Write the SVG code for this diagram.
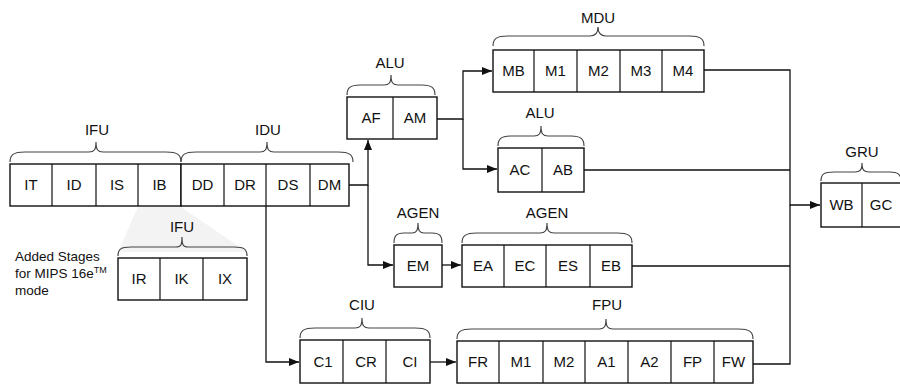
<svg xmlns="http://www.w3.org/2000/svg" width="900" height="384" viewBox="0 0 900 384">
<defs>
<style>
.box{fill:#fff;stroke:#111;stroke-width:1.4}
.div{stroke:#111;stroke-width:1.2;fill:none}
.br{fill:none;stroke:#444;stroke-width:1.2}
.t{font-family:"Liberation Sans",Arial,sans-serif;font-size:15px;fill:#111;text-anchor:middle}
.lb{font-family:"Liberation Sans",Arial,sans-serif;font-size:15px;fill:#111;text-anchor:middle}
.note{font-family:"Liberation Sans",Arial,sans-serif;font-size:13.5px;fill:#111}
.c{fill:none;stroke:#111;stroke-width:1.3}
</style>
<marker id="ah" viewBox="0 0 10 8" refX="10" refY="4" markerWidth="10" markerHeight="8" markerUnits="userSpaceOnUse" orient="auto">
<path d="M0,0 L10,4 L0,8 Z" fill="#111"/>
</marker>
</defs>
<rect width="900" height="384" fill="#fff"/>
<polygon points="138,207 181,207 247,252 118,252" fill="#f3f3f3"/>

<g id="connectors">
<path class="c" d="M349,185 H368 V140" marker-end="url(#ah)"/>
<path class="c" d="M368,185 V265 H393" marker-end="url(#ah)"/>
<path class="c" d="M266,206 V362 H299" marker-end="url(#ah)"/>
<path class="c" d="M437,119 H463 V71 H492" marker-end="url(#ah)"/>
<path class="c" d="M463,119 V169 H497" marker-end="url(#ah)"/>
<path class="c" d="M442,265 H461" marker-end="url(#ah)"/>
<path class="c" d="M430,362 H456" marker-end="url(#ah)"/>
<path class="c" d="M704,70 H790 V205 H820" marker-end="url(#ah)"/>
<path class="c" d="M584,170 H790"/>
<path class="c" d="M632,266 H790"/>
<path class="c" d="M753,364 H790 V205"/>
</g>

<g id="ifu">
<path class="br" d="M10,162 C10,155 13,152 25,152 L89,152 C94,152 96,150 96,142 C96,150 98,152 103,152 L166,152 C178,152 181,155 181,162"/>
<text class="lb" x="97" y="135">IFU</text>
<rect class="box" x="10" y="164" width="171" height="42"/>
<path class="div" d="M52,164V206M96,164V206M138,164V206"/>
<text class="t" x="31" y="190">IT</text>
<text class="t" x="74" y="190">ID</text>
<text class="t" x="117" y="190">IS</text>
<text class="t" x="159.5" y="190">IB</text>
</g>

<g id="idu">
<path class="br" d="M181,162 C181,155 184,152 196,152 L260,152 C265,152 267,150 267,142 C267,150 269,152 274,152 L338,152 C350,152 353,155 353,162"/>
<text class="lb" x="268" y="135">IDU</text>
<rect class="box" x="181" y="164" width="168" height="42"/>
<path class="div" d="M224,164V206M266,164V206M310,164V206"/>
<text class="t" x="202.5" y="190">DD</text>
<text class="t" x="245" y="190">DR</text>
<text class="t" x="288" y="190">DS</text>
<text class="t" x="329.5" y="190">DM</text>
</g>

<g id="ifu16">
<path class="br" d="M118,256 C118,249 121,247 131,247 L176,247 C181,247 182,245 182,237 C182,245 183,247 188,247 L234,247 C244,247 247,249 247,256"/>
<text class="lb" x="182" y="232">IFU</text>
<rect class="box" x="118" y="258" width="129" height="42"/>
<path class="div" d="M160,258V300M203,258V300"/>
<text class="t" x="139" y="284">IR</text>
<text class="t" x="181.5" y="284">IK</text>
<text class="t" x="225" y="284">IX</text>
</g>

<g id="note">
<text class="note" x="15" y="261">Added Stages</text>
<text class="note" x="15" y="278">for MIPS 16e<tspan font-size="9" dy="-5">TM</tspan></text>
<text class="note" x="15" y="295">mode</text>
</g>

<g id="alu1">
<path class="br" d="M347,95 C347,88 350,85 360,85 L384,85 C389,85 391,83 391,75 C391,83 393,85 398,85 L422,85 C432,85 435,88 435,95"/>
<text class="lb" x="390" y="68">ALU</text>
<rect class="box" x="347" y="97" width="90" height="42"/>
<path class="div" d="M393,97V139"/>
<text class="t" x="371" y="123">AF</text>
<text class="t" x="415" y="123">AM</text>
</g>

<g id="mdu">
<path class="br" d="M493,46 C493,39 496,36 508,36 L590,36 C595,36 598,34 598,27 C598,34 601,36 606,36 L689,36 C701,36 704,39 704,46"/>
<text class="lb" x="598" y="23">MDU</text>
<rect class="box" x="493" y="50" width="211" height="42"/>
<path class="div" d="M534,50V92M577,50V92M620,50V92M662,50V92"/>
<text class="t" x="513.5" y="76">MB</text>
<text class="t" x="555.5" y="76">M1</text>
<text class="t" x="598.5" y="76">M2</text>
<text class="t" x="641" y="76">M3</text>
<text class="t" x="683" y="76">M4</text>
</g>

<g id="alu2">
<path class="br" d="M498,146 C498,139 501,136 511,136 L534,136 C539,136 541,134 541,126 C541,134 543,136 548,136 L571,136 C581,136 584,139 584,146"/>
<text class="lb" x="540" y="118">ALU</text>
<rect class="box" x="498" y="148" width="86" height="44"/>
<path class="div" d="M542,148V192"/>
<text class="t" x="520" y="175">AC</text>
<text class="t" x="563" y="175">AB</text>
</g>

<g id="agen1">
<path class="br" d="M394,243 C394,236 396,233 404,233 L412,233 C416,233 418,231 418,223 C418,231 420,233 424,233 L432,233 C440,233 442,236 442,243"/>
<text class="lb" x="418" y="218">AGEN</text>
<rect class="box" x="394" y="245" width="48" height="42"/>
<text class="t" x="418" y="271">EM</text>
</g>

<g id="agen2">
<path class="br" d="M462,243 C462,236 465,233 477,233 L540,233 C545,233 547,231 547,223 C547,231 549,233 554,233 L617,233 C629,233 632,236 632,243"/>
<text class="lb" x="547" y="218">AGEN</text>
<rect class="box" x="462" y="245" width="170" height="42"/>
<path class="div" d="M504,245V287M546,245V287M590,245V287"/>
<text class="t" x="483" y="271">EA</text>
<text class="t" x="525" y="271">EC</text>
<text class="t" x="568" y="271">ES</text>
<text class="t" x="611" y="271">EB</text>
</g>

<g id="ciu">
<path class="br" d="M300,338 C300,331 303,328 315,328 L355,328 C360,328 362,326 362,318 C362,326 364,328 369,328 L415,328 C427,328 430,331 430,338"/>
<text class="lb" x="362" y="310">CIU</text>
<rect class="box" x="300" y="340" width="130" height="43"/>
<path class="div" d="M343,340V383M386,340V383"/>
<text class="t" x="323" y="367">C1</text>
<text class="t" x="366" y="367">CR</text>
<text class="t" x="410" y="367">CI</text>
</g>

<g id="fpu">
<path class="br" d="M457,339 C457,332 460,329 472,329 L599,329 C604,329 606,327 606,319 C606,327 608,329 613,329 L738,329 C750,329 753,332 753,339"/>
<text class="lb" x="607" y="310">FPU</text>
<rect class="box" x="457" y="341" width="296" height="42"/>
<path class="div" d="M499,341V383M543,341V383M585,341V383M628,341V383M671,341V383M714,341V383"/>
<text class="t" x="478" y="367">FR</text>
<text class="t" x="521" y="367">M1</text>
<text class="t" x="564" y="367">M2</text>
<text class="t" x="606.5" y="367">A1</text>
<text class="t" x="649.5" y="367">A2</text>
<text class="t" x="692.5" y="367">FP</text>
<text class="t" x="733.5" y="367">FW</text>
</g>

<g id="gru">
<path class="br" d="M821,181 C821,174 824,172 834,172 L855,172 C860,172 862,170 862,163 C862,170 864,172 869,172 L890,172 C898,172 900,174 902,181"/>
<text class="lb" x="862" y="157">GRU</text>
<rect class="box" x="821" y="183" width="82" height="44"/>
<path class="div" d="M862,183V227"/>
<text class="t" x="841.5" y="210">WB</text>
<text class="t" x="881" y="210" font-size="13">GC</text>
</g>
</svg>
